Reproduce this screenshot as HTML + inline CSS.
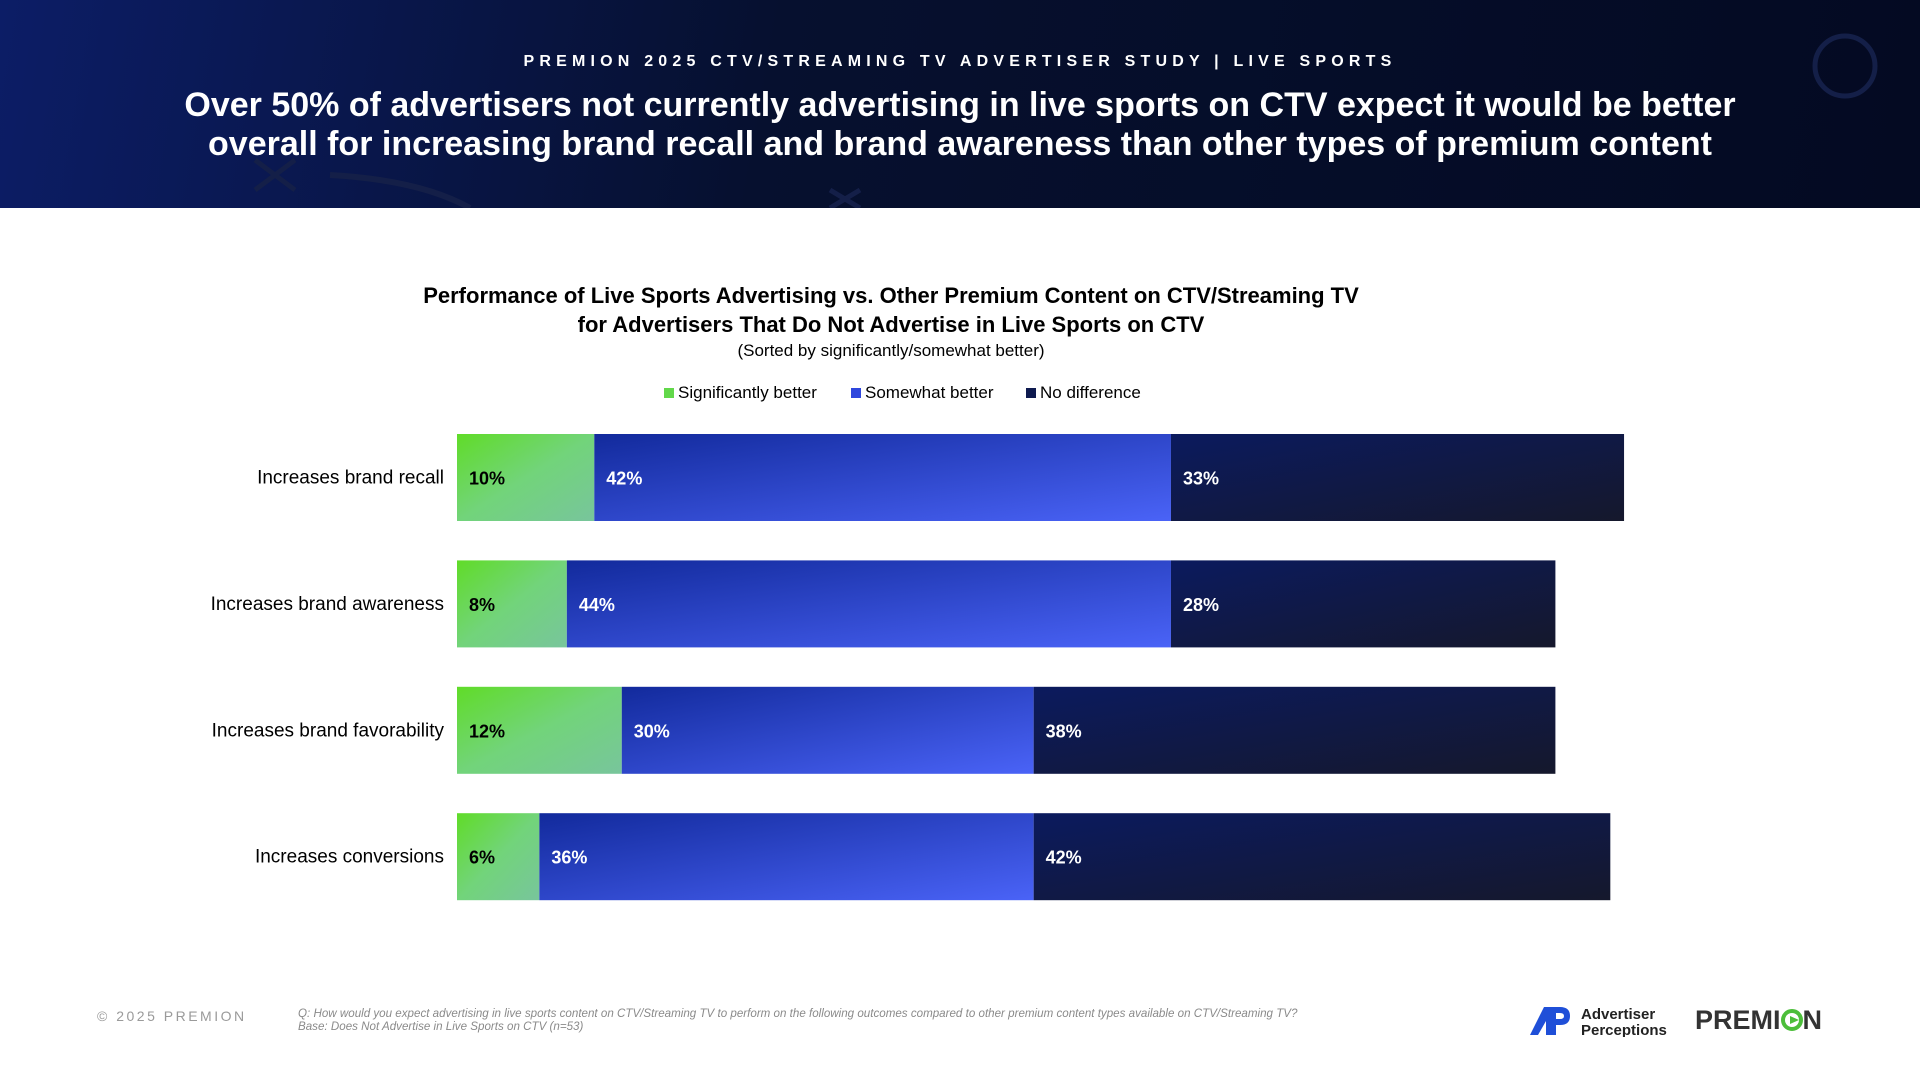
<!DOCTYPE html>
<html><head><meta charset="utf-8">
<style>
body{margin:0;width:1920px;height:1080px;background:#fff;font-family:"Liberation Sans",sans-serif;position:relative;overflow:hidden}
.hdr{position:absolute;left:0;top:0;width:1920px;height:208px;background:linear-gradient(100deg,#0c1d66 0%,#06102f 40%,#040a22 100%)}
.abs{position:absolute}
</style></head><body>
<div class="hdr">
<svg class="abs" style="left:0;top:0" width="1920" height="208">
<circle cx="1845" cy="66" r="30" fill="none" stroke="#141f48" stroke-width="5"/>
<path d="M330 175 Q420 180 470 208" fill="none" stroke="#141f48" stroke-width="6"/>
<path d="M255 160 l40 30 M295 160 l-40 30" stroke="#141f48" stroke-width="5"/>
<path d="M830 190 l30 18 M860 190 l-30 18" stroke="#141f48" stroke-width="5"/>
</svg>
<div class="abs" style="left:0;width:1920px;top:53px;text-align:center;color:#fff;font-size:16px;font-weight:bold;letter-spacing:5.2px">PREMION 2025 CTV/STREAMING TV ADVERTISER STUDY | LIVE SPORTS</div>
<div class="abs" style="left:0;width:1920px;top:86px;text-align:center;color:#fff;font-size:34px;font-weight:bold;line-height:39px">Over 50% of advertisers not currently advertising in live sports on CTV expect it would be better<br>overall for increasing brand recall and brand awareness than other types of premium content</div>
</div>
<div class="abs" style="left:0;width:1782px;top:281px;text-align:center;color:#000;font-size:22px;font-weight:bold;line-height:29px">Performance of Live Sports Advertising vs. Other Premium Content on CTV/Streaming TV<br>for Advertisers That Do Not Advertise in Live Sports on CTV</div>
<div class="abs" style="left:0;width:1782px;top:341px;text-align:center;color:#000;font-size:17px">(Sorted by significantly/somewhat better)</div>
<div class="abs" style="left:664px;top:383px;font-size:17px;color:#000"><span style="display:inline-block;width:10px;height:10px;background:#62d84a;margin-right:4px"></span>Significantly better</div>
<div class="abs" style="left:851px;top:383px;font-size:17px;color:#000"><span style="display:inline-block;width:10px;height:10px;background:#2f47dd;margin-right:4px"></span>Somewhat better</div>
<div class="abs" style="left:1026px;top:383px;font-size:17px;color:#000"><span style="display:inline-block;width:10px;height:10px;background:#0e1a4f;margin-right:4px"></span>No difference</div>
<svg class="abs" id="chart" style="left:0;top:0" width="1920" height="1080">
<defs>
<linearGradient id="gG" x1="0" y1="0" x2="1" y2="1"><stop offset="0" stop-color="#60dc28"/><stop offset="0.5" stop-color="#72d47a"/><stop offset="1" stop-color="#78c59c"/></linearGradient>
<linearGradient id="gB" x1="0" y1="0" x2="1" y2="1"><stop offset="0" stop-color="#122a9c"/><stop offset="1" stop-color="#4a63f7"/></linearGradient>
<linearGradient id="gD" x1="0" y1="0" x2="1" y2="1"><stop offset="0" stop-color="#0b1a5e"/><stop offset="1" stop-color="#15182c"/></linearGradient>
</defs>
</svg>
<div class="abs" style="left:97px;top:1008px;font-size:14px;color:#9a9a9a;letter-spacing:2.5px">© 2025 PREMION</div>
<div class="abs" style="left:298px;top:1007px;font-size:11.6px;color:#8a8a8a;font-style:italic;line-height:13px">Q: How would you expect advertising in live sports content on CTV/Streaming TV to perform on the following outcomes compared to other premium content types available on CTV/Streaming TV?<br>Base: Does Not Advertise in Live Sports on CTV (n=53)</div>
<svg class="abs" style="left:1530px;top:1005px" width="145" height="32">
<path d="M0 30 L14 2 L22 2 L22 30 L16 30 L16 16 L8 30 Z" fill="#1f4fd8"/>
<path d="M22 2 L30 2 Q40 2 40 11 Q40 20 30 20 L26 20 L26 14 L30 14 Q34 14 34 11 Q34 8 30 8 L26 8 L26 30 L22 30 Z" fill="#1f4fd8"/>
<text x="51" y="14" font-size="15" font-weight="bold" fill="#222" font-family="Liberation Sans">Advertiser</text>
<text x="51" y="30" font-size="15" font-weight="bold" fill="#222" font-family="Liberation Sans">Perceptions</text>
</svg>
<div class="abs" style="left:1695px;top:1005px;font-size:27px;font-weight:bold;color:#333">PREMI<span style="display:inline-block;width:22px;height:22px;border-radius:50%;border:4px solid #4cbe3a;box-sizing:border-box;vertical-align:-2px;position:relative"><span style="position:absolute;left:5px;top:3px;border-left:9px solid #4cbe3a;border-top:4px solid transparent;border-bottom:4px solid transparent"></span></span>N</div>
<script>
const categories=["Increases brand recall","Increases brand awareness","Increases brand favorability","Increases conversions"];
const significantly=[10,8,12,6];
const somewhat=[42,44,30,36];
const noDifference=[33,28,38,42];
const svg=document.getElementById('chart');
const NS='http://www.w3.org/2000/svg';
const x0=457, pxPer=13.73;
function xScale(v){return x0+v*pxPer;}
const barH=87;
function yScale(i){return 434+i*126.4;}
categories.forEach((c,i)=>{
  const y=yScale(i);
  const t=document.createElementNS(NS,'text');
  t.setAttribute('x',444);t.setAttribute('y',y+barH/2+6);t.setAttribute('text-anchor','end');
  t.setAttribute('font-size','19');t.setAttribute('font-family','Liberation Sans');t.setAttribute('fill','#000');
  t.textContent=c;
  
  
  svg.appendChild(t);
  const segs=[[significantly[i],'url(#gG)','#000'],[somewhat[i],'url(#gB)','#fff'],[noDifference[i],'url(#gD)','#fff']];
  let cum=0;
  segs.forEach((s,k)=>{
    const r=document.createElementNS(NS,'rect');
    r.setAttribute('x',xScale(cum));r.setAttribute('y',y);
    r.setAttribute('width',xScale(cum+s[0])-xScale(cum));r.setAttribute('height',barH);
    r.setAttribute('fill',s[1]);
    
    
    svg.appendChild(r);
    const l=document.createElementNS(NS,'text');
    l.setAttribute('x',xScale(cum)+12);l.setAttribute('y',y+barH/2+7);
    l.setAttribute('font-size','18');l.setAttribute('font-weight','bold');l.setAttribute('font-family','Liberation Sans');
    l.setAttribute('fill',s[2]);l.textContent=s[0]+'%';
    
    
    svg.appendChild(l);
    cum+=s[0];
  });
});
</script>
</body></html>
